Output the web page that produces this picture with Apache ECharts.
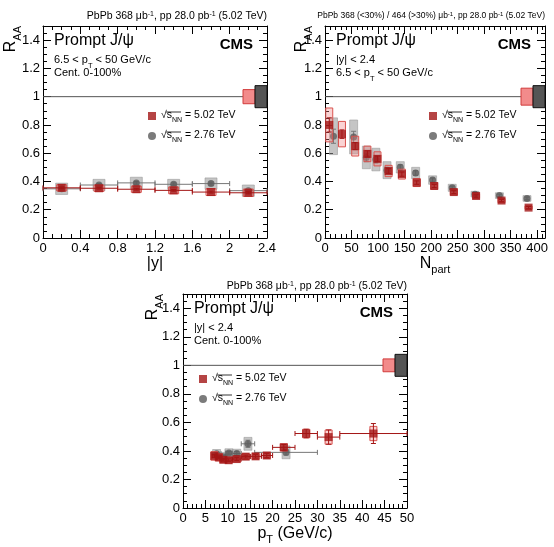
<!DOCTYPE html>
<html>
<head>
<meta charset="utf-8">
<script src="https://cdn.jsdelivr.net/npm/echarts@6/dist/echarts.min.js"></script>
<style>
  html, body { margin: 0; padding: 0; background: #fff; }
  #chart { width: 554px; height: 547px; }
</style>
</head>
<body>
<div id="chart"></div>
<script>
// ---- R_AA vs |y| ----
const rapLo = [0, 0.4, 0.8, 1.2, 1.6, 2.0];
const rapHi = [0.4, 0.8, 1.2, 1.6, 2.0, 2.4];
const rapX = [0.2, 0.6, 1.0, 1.4, 1.8, 2.2];
const rapRaa502 = [0.355, 0.352, 0.345, 0.337, 0.325, 0.32];
const rapStat502 = [0.006, 0.006, 0.006, 0.006, 0.007, 0.008];
const rapSys502 = [0.022, 0.022, 0.022, 0.024, 0.024, 0.026];
const rapRaa276 = [0.348, 0.375, 0.39, 0.38, 0.385, 0.335];
const rapStat276 = [0.01, 0.01, 0.01, 0.01, 0.011, 0.012];
const rapSys276 = [0.04, 0.04, 0.04, 0.035, 0.04, 0.04];

// ---- R_AA vs Npart ----
const npart502 = [384, 333, 285, 243, 206, 173, 145, 120, 99, 80, 57, 32, 8];
const npRaa502 = [0.215, 0.265, 0.297, 0.325, 0.368, 0.392, 0.452, 0.474, 0.56, 0.595, 0.65, 0.735, 0.8];
const npStat502 = [0.008, 0.008, 0.009, 0.01, 0.011, 0.012, 0.015, 0.017, 0.02, 0.022, 0.025, 0.03, 0.05];
const npSys502 = [0.012, 0.015, 0.017, 0.02, 0.022, 0.028, 0.035, 0.04, 0.05, 0.055, 0.07, 0.09, 0.12];
const npart276 = [381, 329, 283, 240, 203, 171, 142, 117, 96, 78, 54, 16];
const npRaa276 = [0.28, 0.3, 0.31, 0.355, 0.41, 0.46, 0.5, 0.48, 0.555, 0.57, 0.715, 0.72];
const npStat276 = [0.01, 0.01, 0.012, 0.012, 0.014, 0.016, 0.018, 0.02, 0.025, 0.03, 0.04, 0.05];
const npSys276 = [0.02, 0.02, 0.02, 0.025, 0.03, 0.04, 0.04, 0.06, 0.08, 0.08, 0.12, 0.13];

// ---- R_AA vs pT ----
const ptLo502 = [6.5, 7.5, 8.5, 9.5, 11, 13, 15, 17.5, 20, 25, 30, 35];
const ptHi502 = [7.5, 8.5, 9.5, 11, 13, 15, 17.5, 20, 25, 30, 35, 50];
const pt502 = [7.0, 8.0, 9.0, 10.2, 12.0, 14.0, 16.2, 18.7, 22.5, 27.5, 32.5, 42.5];
const ptRaa502 = [0.365, 0.355, 0.338, 0.335, 0.343, 0.36, 0.362, 0.368, 0.425, 0.522, 0.497, 0.522];
const ptStat502 = [0.01, 0.01, 0.01, 0.01, 0.01, 0.01, 0.012, 0.015, 0.02, 0.03, 0.05, 0.07];
const ptSys502 = [0.03, 0.025, 0.02, 0.02, 0.02, 0.02, 0.02, 0.02, 0.025, 0.03, 0.05, 0.05];
const ptLo276 = [6.5, 8.5, 9.5, 11, 13, 16];
const ptHi276 = [8.5, 9.5, 11, 13, 16, 30];
const pt276 = [7.5, 9.0, 10.25, 12.0, 14.5, 23.0];
const ptRaa276 = [0.38, 0.36, 0.385, 0.382, 0.45, 0.39];
const ptStat276 = [0.01, 0.01, 0.012, 0.015, 0.025, 0.02];
const ptSys276 = [0.03, 0.03, 0.03, 0.03, 0.045, 0.045];

// global uncertainty boxes at R_AA = 1 (5.02 / 2.76)
const globUnc502 = [0.05, 0.06, 0.045];
const globUnc276 = [0.078, 0.078, 0.077];

const FONT = '"Liberation Sans", Arial, Helvetica, sans-serif';
const RED = '#a31515';
const GRAY = '#5a5a5a';

const panels = [
  { left: 43, top: 26, width: 224, height: 212, xmax: 2.4, xint: 0.4, xminor: 4, nameGap: 18, legend: [148, 110], headY: 11 },
  { left: 325, top: 26, width: 220, height: 212, xmax: 415, xint: 50, xminor: 5, nameGap: 16, legend: [429, 110], headY: 11 },
  { left: 183, top: 294, width: 224, height: 214, xmax: 50, xint: 5, xminor: 5, nameGap: 17, legend: [199, 373], headY: 281 }
];

// box for systematic uncertainty
function boxRender(fill, stroke, halfW) {
  return function (params, api) {
    const x = api.value(0), y = api.value(1), s = api.value(2);
    const hi = api.coord([x, y + s]);
    const lo = api.coord([x, y - s]);
    return {
      type: 'rect',
      shape: { x: hi[0] - halfW, y: hi[1], width: halfW * 2, height: lo[1] - hi[1] },
      style: { fill: fill, stroke: stroke, lineWidth: 1 }
    };
  };
}

// x bin bar + vertical stat error, with caps
function errRender(color, cap) {
  return function (params, api) {
    const x = api.value(0), y = api.value(1);
    const c = api.coord([x, y]);
    const l = api.coord([api.value(2), y]);
    const r = api.coord([api.value(3), y]);
    const t = api.coord([x, y + api.value(4)]);
    const b = api.coord([x, y - api.value(4)]);
    const st = { stroke: color, lineWidth: 1 };
    const kids = [
      { type: 'line', shape: { x1: c[0], y1: t[1], x2: c[0], y2: b[1] }, style: st },
      { type: 'line', shape: { x1: c[0] - cap, y1: t[1], x2: c[0] + cap, y2: t[1] }, style: st },
      { type: 'line', shape: { x1: c[0] - cap, y1: b[1], x2: c[0] + cap, y2: b[1] }, style: st }
    ];
    if (r[0] - l[0] > 1) {
      kids.push(
        { type: 'line', shape: { x1: l[0], y1: c[1], x2: r[0], y2: c[1] }, style: st },
        { type: 'line', shape: { x1: l[0], y1: c[1] - cap, x2: l[0], y2: c[1] + cap }, style: st },
        { type: 'line', shape: { x1: r[0], y1: c[1] - cap, x2: r[0], y2: c[1] + cap }, style: st }
      );
    }
    return { type: 'group', children: kids };
  };
}

// global normalisation boxes at the right edge
function globRender(params, api) {
  const xr = api.value(0);
  const c = api.coord([xr, 1]);
  const r1 = api.coord([xr, 1 + api.value(2)]);
  const r2 = api.coord([xr, 1 - api.value(2)]);
  const g1 = api.coord([xr, 1 + api.value(3)]);
  const g2 = api.coord([xr, 1 - api.value(3)]);
  return {
    type: 'group',
    children: [
      { type: 'rect', shape: { x: c[0] - 24, y: r1[1], width: 12, height: r2[1] - r1[1] },
        style: { fill: '#f28b8b', stroke: '#d23c3c', lineWidth: 1 } },
      { type: 'rect', shape: { x: c[0] - 12, y: g1[1], width: 12, height: g2[1] - g1[1] },
        style: { fill: '#555', stroke: '#111', lineWidth: 1 } }
    ]
  };
}

const grid = panels.map(p => ({ left: p.left, top: p.top, width: p.width, height: p.height }));

const xAxis = [];
const yAxis = [];
const xNames = ['{n||y|}', '{n|N}{s|part}', '{n|p}{s|T}{n| (GeV/c)}'];
const axisRich = {
  n: { fontSize: 16, lineHeight: 16, verticalAlign: 'top', fontFamily: FONT, color: '#000' },
  s: { fontSize: 11, lineHeight: 11, padding: [9, 0, 0, 0], verticalAlign: 'top', fontFamily: FONT, color: '#000' }
};
panels.forEach((p, i) => {
  const base = {
    gridIndex: i, type: 'value', min: 0, max: p.xmax, interval: p.xint,
    axisLine: { show: true, onZero: false, lineStyle: { color: '#000', width: 1 } },
    axisTick: { show: true, inside: true, length: 8, lineStyle: { color: '#000' } },
    minorTick: { show: true, splitNumber: p.xminor, length: 4, lineStyle: { color: '#000' } },
    splitLine: { show: false }
  };
  xAxis.push(Object.assign({}, base, {
    position: 'bottom',
    name: xNames[i], nameLocation: 'middle', nameGap: p.nameGap,
    nameTextStyle: { fontSize: 16, fontFamily: FONT, color: '#000', rich: axisRich },
    axisLabel: { fontSize: 13, fontFamily: FONT, color: '#000', margin: 4, showMaxLabel: i !== 1 }
  }));
  xAxis.push(Object.assign({}, base, { position: 'top', axisLabel: { show: false } }));
  const ybase = {
    gridIndex: i, type: 'value', min: 0, max: 1.5, interval: 0.2,
    axisLine: { show: true, onZero: false, lineStyle: { color: '#000', width: 1 } },
    axisTick: { show: true, inside: true, length: 8, lineStyle: { color: '#000' } },
    minorTick: { show: true, splitNumber: 4, length: 4, lineStyle: { color: '#000' } },
    splitLine: { show: false }
  };
  yAxis.push(Object.assign({}, ybase, {
    position: 'left',
    axisLabel: { fontSize: 13, fontFamily: FONT, color: '#000', margin: 3, showMaxLabel: false }
  }));
  yAxis.push(Object.assign({}, ybase, { position: 'right', axisLabel: { show: false } }));
});

function zip(...cols) {
  return cols[0].map((_, k) => cols.map(c => c[k]));
}

const sets = [
  {
    g: { x: rapX, lo: rapLo, hi: rapHi, v: rapRaa276, st: rapStat276, sy: rapSys276 },
    r: { x: rapX, lo: rapLo, hi: rapHi, v: rapRaa502, st: rapStat502, sy: rapSys502 },
    gw: 6, rw: 5
  },
  {
    g: { x: npart276, lo: npart276, hi: npart276, v: npRaa276, st: npStat276, sy: npSys276 },
    r: { x: npart502, lo: npart502, hi: npart502, v: npRaa502, st: npStat502, sy: npSys502 },
    gw: 4, rw: 3.5
  },
  {
    g: { x: pt276, lo: ptLo276, hi: ptHi276, v: ptRaa276, st: ptStat276, sy: ptSys276 },
    r: { x: pt502, lo: ptLo502, hi: ptHi502, v: ptRaa502, st: ptStat502, sy: ptSys502 },
    gw: 4, rw: 3.5
  }
];

const series = [];
sets.forEach((s, i) => {
  const ax = { xAxisIndex: i * 2, yAxisIndex: i * 2 };
  series.push(Object.assign({
    type: 'line', data: [[0, 1], [panels[i].xmax, 1]], symbol: 'none', silent: true,
    lineStyle: { color: '#555', width: 1 }, z: 1
  }, ax));
  series.push(Object.assign({
    type: 'custom', renderItem: boxRender('rgba(150,150,150,0.55)', 'rgba(150,150,150,0.55)', s.gw),
    data: zip(s.g.x, s.g.v, s.g.sy), encode: { x: 0, y: 1 }, z: 2
  }, ax));
  series.push(Object.assign({
    type: 'custom', renderItem: errRender('#777', 2.5),
    data: zip(s.g.x, s.g.v, s.g.lo, s.g.hi, s.g.st), encode: { x: 0, y: 1 }, z: 3
  }, ax));
  series.push(Object.assign({
    type: 'scatter', name: '2.76', symbol: 'circle', symbolSize: 7,
    itemStyle: { color: GRAY }, data: zip(s.g.x, s.g.v), z: 4
  }, ax));
  series.push(Object.assign({
    type: 'custom', renderItem: boxRender('rgba(240,130,130,0.35)', '#d9534f', s.rw),
    data: zip(s.r.x, s.r.v, s.r.sy), encode: { x: 0, y: 1 }, z: 5
  }, ax));
  series.push(Object.assign({
    type: 'custom', renderItem: errRender(RED, 2.5),
    data: zip(s.r.x, s.r.v, s.r.lo, s.r.hi, s.r.st), encode: { x: 0, y: 1 }, z: 6
  }, ax));
  series.push(Object.assign({
    type: 'scatter', name: '5.02', symbol: 'rect', symbolSize: 8,
    itemStyle: { color: RED }, data: zip(s.r.x, s.r.v), z: 7
  }, ax));
  series.push(Object.assign({
    type: 'custom', renderItem: globRender,
    data: [[panels[i].xmax, 1, globUnc502[i], globUnc276[i]]], encode: { x: 0, y: 1 }, z: 8
  }, ax));
});

const legRich = {
  a: { fontSize: 10.5, lineHeight: 12, verticalAlign: 'top', fontFamily: FONT, color: '#000' },
  sub: { fontSize: 7, lineHeight: 7, padding: [7, 0, 0, 0], verticalAlign: 'top', fontFamily: FONT, color: '#000' }
};
const legend = panels.map(p => ({
  left: p.legend[0], top: p.legend[1], orient: 'vertical', itemWidth: 8, itemHeight: 8, itemGap: 6,
  padding: 0, selectedMode: false,
  data: [{ name: '5.02', icon: 'rect' }, { name: '2.76', icon: 'circle' }],
  formatter: name => '{a|√s}{sub|NN}{a| = ' + name + ' TeV}',
  textStyle: { rich: legRich }
}));

// text annotations
const supRich = {
  t: { fontSize: 10.5, lineHeight: 12, verticalAlign: 'top', fontFamily: FONT, color: '#000' },
  u: { fontSize: 7, lineHeight: 7, verticalAlign: 'top', fontFamily: FONT, color: '#000' }
};
const supRich2 = {
  t: { fontSize: 8.5, lineHeight: 10, verticalAlign: 'top', fontFamily: FONT, color: '#000' },
  u: { fontSize: 6, lineHeight: 6, verticalAlign: 'top', fontFamily: FONT, color: '#000' }
};
const lineRich = {
  t: { fontSize: 11, lineHeight: 12, verticalAlign: 'top', fontFamily: FONT, color: '#000' },
  s: { fontSize: 7.5, lineHeight: 7.5, padding: [8, 0, 0, 0], verticalAlign: 'top', fontFamily: FONT, color: '#000' }
};
const raaRich = {
  r: { fontSize: 16, lineHeight: 16, verticalAlign: 'top', fontFamily: FONT, color: '#000' },
  s: { fontSize: 11, lineHeight: 11, padding: [9, 0, 0, 0], verticalAlign: 'top', fontFamily: FONT, color: '#000' }
};
const headers = [
  '{t|PbPb 368 μb}{u|-1}{t|, pp 28.0 pb}{u|-1}{t| (5.02 TeV)}',
  '{t|PbPb 368 (<30%) / 464 (>30%) μb}{u|-1}{t|, pp 28.0 pb}{u|-1}{t| (5.02 TeV)}',
  '{t|PbPb 368 μb}{u|-1}{t|, pp 28.0 pb}{u|-1}{t| (5.02 TeV)}'
];
const line2 = ['{t|6.5 < p}{s|T}{t| < 50 GeV/c}', '{t||y| < 2.4}', '{t||y| < 2.4}'];
const line3 = ['{t|Cent. 0-100%}', '{t|6.5 < p}{s|T}{t| < 50 GeV/c}', '{t|Cent. 0-100%}'];
const raaX = [11, 302, 153];

const graphic = [];
panels.forEach((p, i) => {
  const right = p.left + p.width;
  graphic.push({
    type: 'text', x: right, y: p.headY,
    style: { text: headers[i], rich: i === 1 ? supRich2 : supRich, align: 'right', verticalAlign: 'top' }
  });
  graphic.push({
    type: 'text', x: p.left + 11, y: p.top + 15,
    style: { text: 'Prompt J/ψ', fontSize: 16, fontFamily: FONT, fill: '#000', align: 'left', verticalAlign: 'middle' }
  });
  graphic.push({
    type: 'text', x: p.left + 11, y: p.top + 28,
    style: { text: line2[i], rich: lineRich, align: 'left', verticalAlign: 'top' }
  });
  graphic.push({
    type: 'text', x: p.left + 11, y: p.top + 41,
    style: { text: line3[i], rich: lineRich, align: 'left', verticalAlign: 'top' }
  });
  graphic.push({
    type: 'text', x: right - 14, y: p.top + 19,
    style: { text: 'CMS', fontSize: 15, fontWeight: 'bold', fontFamily: FONT, fill: '#000', align: 'right', verticalAlign: 'middle' }
  });
  graphic.push({
    type: 'text', x: raaX[i], y: p.top, rotation: Math.PI / 2,
    style: { text: '{r|R}{s|AA}', rich: raaRich, align: 'right', verticalAlign: 'middle' }
  });
  // overline of the square root in the legend entries
  [0, 1].forEach(k => {
    graphic.push({
      type: 'line', silent: true,
      shape: { x1: p.legend[0] + 18, y1: p.legend[1] + 2 + k * 20, x2: p.legend[0] + 33, y2: p.legend[1] + 2 + k * 20 },
      style: { stroke: '#000', lineWidth: 0.8 }
    });
  });
});

const chart = echarts.init(document.getElementById('chart'), null, { renderer: 'canvas' });
chart.setOption({
  animation: false,
  backgroundColor: '#fff',
  grid, xAxis, yAxis, series, legend, graphic
});
</script>
</body>
</html>
